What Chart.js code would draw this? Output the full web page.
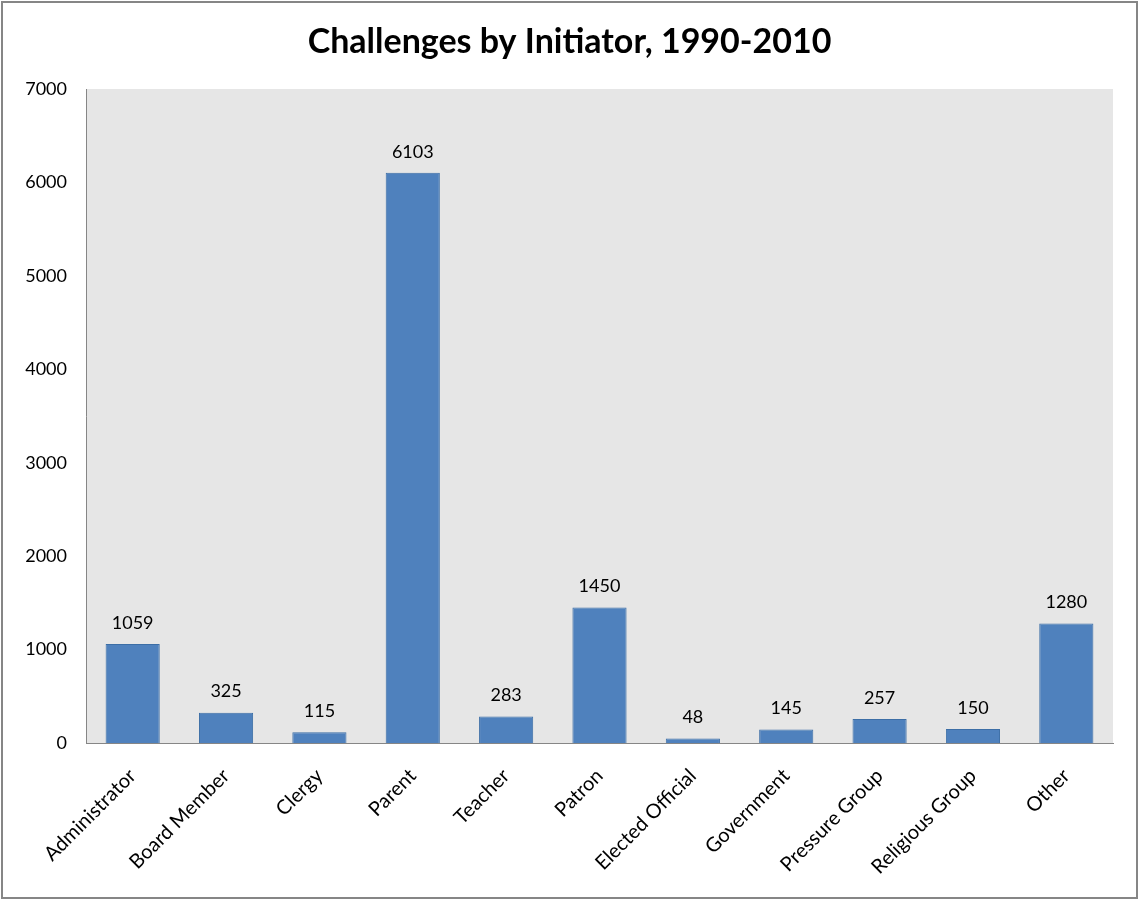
<!DOCTYPE html>
<html>
<head>
<meta charset="utf-8">
<script src="https://cdn.jsdelivr.net/npm/chart.js@4"></script>
<style>
  html, body { margin: 0; padding: 0; background: #fff; }
  #wrap { width: 1139px; height: 900px; position: relative; }
</style>
</head>
<body>
<div id="wrap"><canvas id="myChart" width="1139" height="900"></canvas></div>
<script>
    // chart data
    const categories = ['Administrator', 'Board Member', 'Clergy', 'Parent', 'Teacher', 'Patron',
        'Elected Official', 'Government', 'Pressure Group', 'Religious Group', 'Other'];
    const challenges = [1059, 325, 115, 6103, 283, 1450, 48, 145, 257, 150, 1280];
    const yTicks = [0, 1000, 2000, 3000, 4000, 5000, 6000, 7000];
    const chartTitle = 'Challenges by Initiator, 1990-2010';

    const FONT = 'Lato, "Open Sans", sans-serif';

    // gray plot area, outer frame and title centred on the whole canvas
    const frame = {
        id: 'frame',
        beforeDraw(chart) {
            const { ctx, chartArea: a } = chart;
            ctx.save();
            ctx.fillStyle = '#fff';
            ctx.fillRect(0, 0, chart.width, chart.height);
            ctx.strokeStyle = '#868686';
            ctx.lineWidth = 2;
            ctx.strokeRect(2, 2, chart.width - 4, chart.height - 4);
            ctx.fillStyle = '#e6e6e6';
            ctx.fillRect(a.left, a.top, a.right - a.left, a.bottom - a.top);

            ctx.fillStyle = '#000';
            ctx.font = 'bold 34px ' + FONT;
            ctx.textAlign = 'center';
            ctx.textBaseline = 'middle';
            ctx.fillText(chartTitle, chart.width / 2, 42);
            ctx.restore();
        }
    };

    // value labels above bars
    const valueLabels = {
        id: 'valueLabels',
        afterDatasetsDraw(chart) {
            const { ctx } = chart;
            const meta = chart.getDatasetMeta(0);
            ctx.save();
            ctx.font = '18px ' + FONT;
            ctx.fillStyle = '#000';
            ctx.textAlign = 'center';
            ctx.textBaseline = 'middle';
            meta.data.forEach((bar, i) => {
                ctx.fillText(String(challenges[i]), bar.x, bar.y - 21);
            });
            ctx.restore();
        }
    };

    const ctx = document.getElementById('myChart').getContext('2d');
    const myChart = new Chart(ctx, {
        type: 'bar',
        data: {
            labels: categories,
            datasets: [{
                data: challenges,
                backgroundColor: '#4f81bd',
                borderColor: '#3c6ea6',
                borderWidth: 1,
                barPercentage: 0.58,
                categoryPercentage: 1.0
            }]
        },
        options: {
            responsive: false,
            animation: false,
            layout: { padding: { left: 0, right: 26, top: 89, bottom: 0 } },
            plugins: {
                legend: { display: false },
                tooltip: { enabled: false },
                title: { display: false }
            },
            scales: {
                x: {
                    grid: { display: false, drawTicks: false },
                    border: { color: '#868686', width: 1 },
                    ticks: {
                        color: '#000',
                        font: { family: FONT, size: 20 },
                        minRotation: 45,
                        maxRotation: 45,
                        autoSkip: false,
                        padding: 21
                    },
                    afterFit(scale) { scale.height = 157; }
                },
                y: {
                    min: 0,
                    max: 7000,
                    grid: { display: false, drawTicks: false },
                    border: { color: '#868686', width: 1 },
                    afterBuildTicks(scale) { scale.ticks = yTicks.map(v => ({ value: v })); },
                    ticks: {
                        color: '#000',
                        font: { family: FONT, size: 18 },
                        padding: 19,
                        callback: v => String(v)
                    },
                    afterFit(scale) { scale.width = 86; }
                }
            }
        },
        plugins: [frame, valueLabels]
    });
</script>
</body>
</html>
